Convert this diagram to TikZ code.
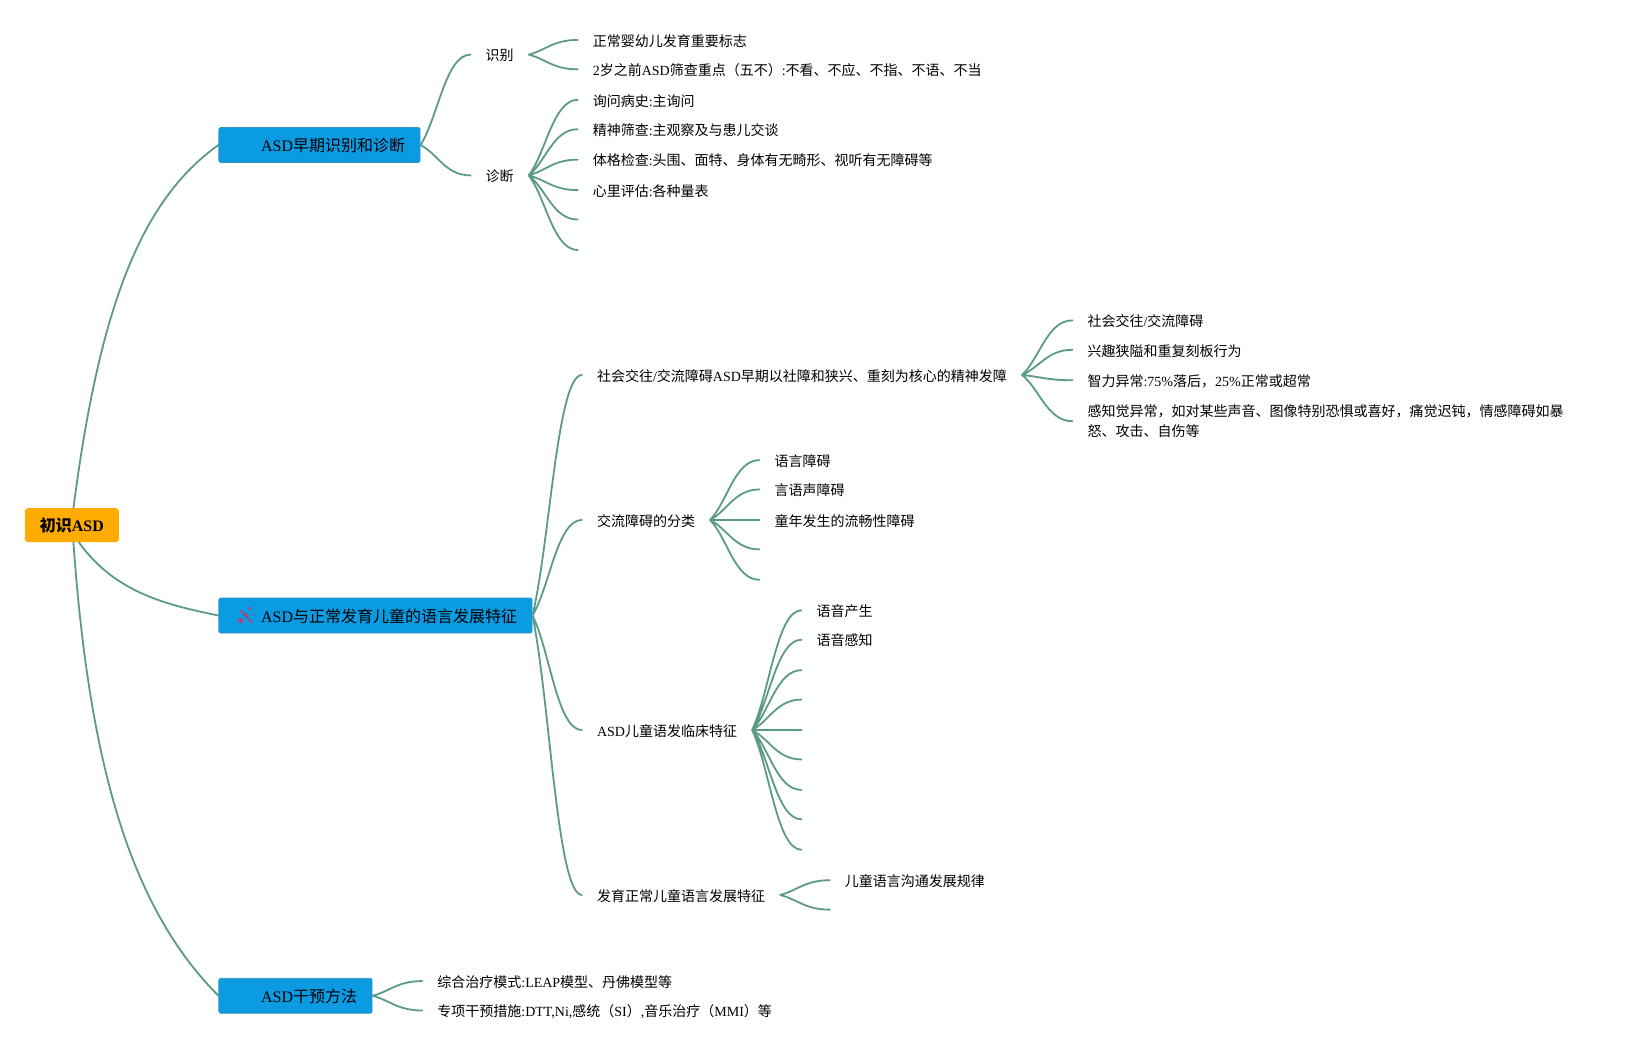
\documentclass[tikz,border=0pt]{standalone}
\usepackage{fontspec}
\setmainfont{Noto Sans CJK SC}
\newfontfamily\latf{Liberation Serif}
\newcommand{\lat}[1]{{\latf #1}}
\usetikzlibrary{calc}
\definecolor{linkc}{HTML}{5B9A86}
\definecolor{bluec}{HTML}{0A9BE3}
\definecolor{blueb}{HTML}{3A93B8}
\definecolor{rootc}{HTML}{FFAB00}
\definecolor{wandc}{HTML}{C8336E}
\tikzset{
  conn/.style={draw=linkc,line width=1.8pt,line cap=round},
  fan/.style={conn,to path={let \p1=(\tikztostart),\p2=(\tikztotarget) in .. controls ({\x1+0.35*(\x2-\x1)},{\y1+0.3*(\y2-\y1)}) and ({\x2-0.5*(\x2-\x1)},\y2) .. (\p2) \tikztonodes}},
  lab/.style={anchor=west,inner xsep=14.9pt,inner ysep=0pt,font=\fontsize{14pt}{20pt}\selectfont,align=left,text=black},
  one/.style={lab,text height=14pt,text depth=1.4pt},
  rootbox/.style={fill=rootc,rounded corners=3pt,minimum width=94pt,minimum height=34pt,inner sep=0pt,font=\fontsize{16pt}{20pt}\selectfont\bfseries,text=black,text height=15pt,text depth=1.8pt},
  bluebox/.style={anchor=west,fill=bluec,draw=blueb,line width=0.6pt,rounded corners=2pt,minimum height=35pt,inner xsep=15pt,inner ysep=0pt,font=\fontsize{16pt}{20pt}\selectfont,text=black,text height=15pt,text depth=1.8pt},
}
\begin{document}
\begin{tikzpicture}[x=1.0504pt,y=-1.0504pt]
\useasboundingbox (0,0) rectangle (1568,999.6);
% main nodes
\node[rootbox] (root) at (68.5,500) {初识\lat{ASD}};
\node[bluebox] (b1) at (208,138) {\hspace*{27.4pt}\lat{ASD}早期识别和诊断};
\node[bluebox] (b2) at (208,586) {\hspace*{27.4pt}\lat{ASD}与正常发育儿童的语言发展特征};
\node[bluebox] (b3) at (208,948) {\hspace*{27.4pt}\lat{ASD}干预方法};
% wand icon
\draw[wandc,line width=1.4pt] (229,581) -- (240,593);
\fill[wandc] (229,591) circle (2.4pt) (235,585) circle (1.2pt) (238,579) circle (1.6pt) (241,585) circle (1pt);
% branch 1
\node[one] (shibie) at (448,52) {识别};
\node[one] (zhenduan) at (448,167) {诊断};
\node[one] (s1) at (550,38) {正常婴幼儿发育重要标志};
\node[one] (s2) at (550,66) {\lat{2}岁之前\lat{ASD}筛查重点（五不）\lat{:}不看、不应、不指、不语、不当};
\node[one] (z1) at (550,95) {询问病史\lat{:}主询问};
\node[one] (z2) at (550,123) {精神筛查\lat{:}主观察及与患儿交谈};
\node[one] (z3) at (550,152) {体格检查\lat{:}头围、面特、身体有无畸形、视听有无障碍等};
\node[one] (z4) at (550,181) {心里评估\lat{:}各种量表};
\coordinate (z5) at (550,209);
\coordinate (z6) at (550,238);
% branch 2
\node[one] (t1) at (554,357) {社会交往\lat{/}交流障碍\lat{ASD}早期以社障和狭兴、重刻为核心的精神发障};
\node[one] (t2) at (554,495) {交流障碍的分类};
\node[one] (t3) at (554,695) {\lat{ASD}儿童语发临床特征};
\node[one] (t4) at (554,852) {发育正常儿童语言发展特征};
\node[one] (a1) at (1021,305) {社会交往\lat{/}交流障碍};
\node[one] (a2) at (1021,333) {兴趣狭隘和重复刻板行为};
\node[one] (a3) at (1021,362) {智力异常\lat{:75\%}落后，\lat{25\%}正常或超常};
\node[lab] (a4) at (1021,401) {感知觉异常，如对某些声音、图像特别恐惧或喜好，痛觉迟钝，情感障碍如暴\\怒、攻击、自伤等};
\node[one] (c1) at (723,438) {语言障碍};
\node[one] (c2) at (723,466) {言语声障碍};
\node[one] (c3) at (723,495) {童年发生的流畅性障碍};
\coordinate (c4) at (723,523);
\coordinate (c5) at (723,552);
\node[one] (d1) at (763,581) {语音产生};
\node[one] (d2) at (763,609) {语音感知};
\coordinate (d3) at (763,638);
\coordinate (d4) at (763,666);
\coordinate (d5) at (763,695);
\coordinate (d6) at (763,723);
\coordinate (d7) at (763,752);
\coordinate (d8) at (763,780);
\coordinate (d9) at (763,809);
\node[one] (e1) at (790,838) {儿童语言沟通发展规律};
\coordinate (e2) at (790,866);
% branch 3
\node[one] (f1) at (402,934) {综合治疗模式\lat{:LEAP}模型、丹佛模型等};
\node[one] (f2) at (402,962) {专项干预措施\lat{:DTT,Ni,}感统（\lat{SI}）\lat{,}音乐治疗（\lat{MMI}）等};
% connectors from the root
\draw[conn] ([xshift=1.5pt]root.north) .. controls (95,290) and (135,190) .. (b1.west);
\draw[conn] ([xshift=7pt]root.south) .. controls (110,565) and (160,576) .. (b2.west);
\draw[conn] ([xshift=1.5pt]root.south) .. controls (85,730) and (125,865) .. (b3.west);
% fans
\path[fan] (b1.east) to (shibie.west) (b1.east) to (zhenduan.west);
\path[fan] (shibie.east) to (s1.west) (shibie.east) to (s2.west);
\path[fan] (zhenduan.east) to (z1.west) (zhenduan.east) to (z2.west) (zhenduan.east) to (z3.west) (zhenduan.east) to (z4.west) (zhenduan.east) to (z5) (zhenduan.east) to (z6);
\path[fan] (b2.east) to (t1.west) (b2.east) to (t2.west) (b2.east) to (t3.west) (b2.east) to (t4.west);
\path[fan] (t1.east) to (a1.west) (t1.east) to (a2.west) (t1.east) to (a3.west) (t1.east) to (a4.west);
\path[fan] (t2.east) to (c1.west) (t2.east) to (c2.west) (t2.east) to (c3.west) (t2.east) to (c4) (t2.east) to (c5);
\path[fan] (t3.east) to (d1.west) (t3.east) to (d2.west) (t3.east) to (d3) (t3.east) to (d4) (t3.east) to (d5) (t3.east) to (d6) (t3.east) to (d7) (t3.east) to (d8) (t3.east) to (d9);
\path[fan] (t4.east) to (e1.west) (t4.east) to (e2);
\path[fan] (b3.east) to (f1.west) (b3.east) to (f2.west);
\end{tikzpicture}
\end{document}
